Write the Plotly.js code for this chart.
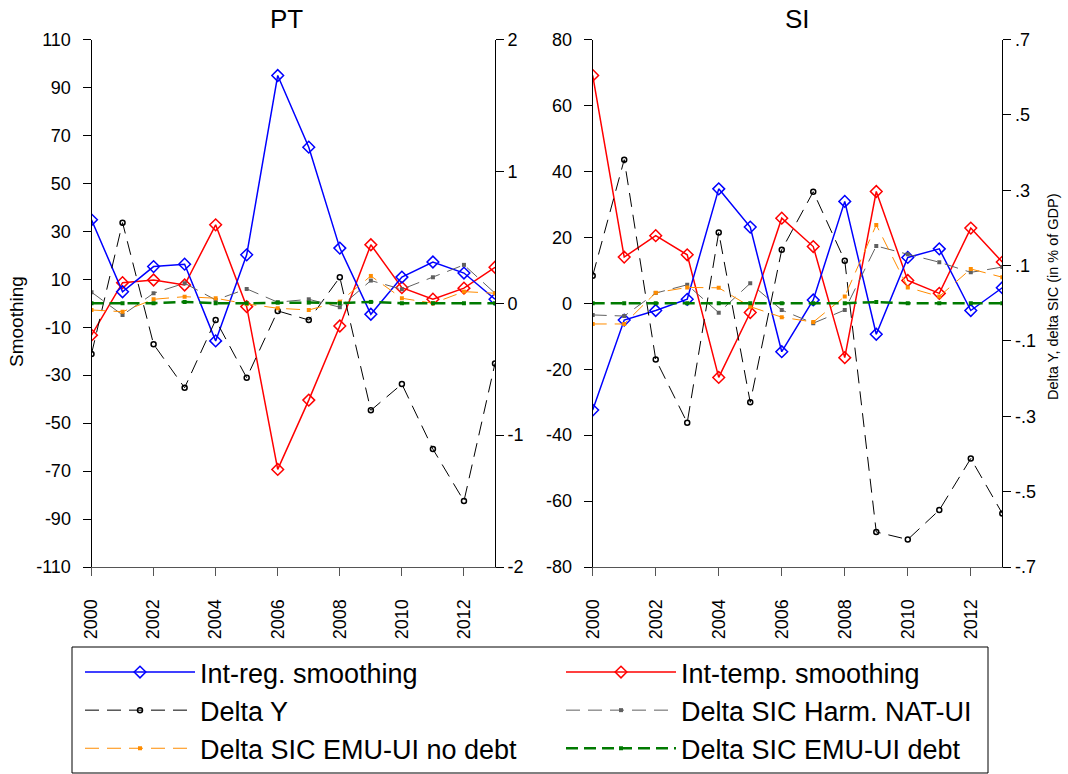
<!DOCTYPE html>
<html>
<head>
<meta charset="utf-8">
<script src="https://cdn.plot.ly/plotly-3.0.1.min.js"></script>
<style>
html,body{margin:0;padding:0;background:#fff;}
</style>
</head>
<body>
<div id="chart" style="width:1068px;height:774px;"></div>
<script>
const years = [2000,2001,2002,2003,2004,2005,2006,2007,2008,2009,2010,2011,2012,2013];
const xTickVals = [2000,2002,2004,2006,2008,2010,2012];

// PT
const ptIntReg  = [34.8, 4.8, 15.3, 16.3, -15.7, 20.2, 95.0, 65.1, 23.0, -4.6, 10.9, 17.2, 12.6, 1.7];
const ptIntTemp = [-13.3, 8.6, 9.7, 7.6, 32.7, -1.4, -69.3, -40.4, -9.5, 24.4, 6.5, 1.7, 6.3, 15.0];
const ptDeltaY  = [-0.384, 0.611, -0.311, -0.641, -0.127, -0.565, -0.058, -0.127, 0.197, -0.812, -0.613, -1.106, -1.50, -0.456];
const ptHarm    = [0.084, -0.089, 0.076, 0.152, 0.025, 0.109, 0.008, 0.030, -0.030, 0.172, 0.106, 0.197, 0.291, 0.076];
const ptNoDebt  = [-0.051, -0.064, 0.030, 0.050, 0.038, -0.005, -0.038, -0.051, 0.012, 0.207, 0.038, 0.000, 0.088, 0.076];
const ptDebt    = [0, 0, 0, 0.01, 0, 0, 0.005, 0.005, 0, 0.01, 0, 0, 0, 0];

// SI
const siIntReg  = [-32.4, -5.1, -2.2, 1.2, 34.7, 23.1, -14.7, 1.0, 30.9, -9.4, 13.9, 16.5, -2.2, 4.7];
const siIntTemp = [69.1, 14.0, 20.5, 14.7, -22.5, -2.8, 25.8, 17.2, -16.5, 33.9, 6.9, 3.0, 22.8, 12.5];
const siDeltaY  = [0.073, 0.381, -0.149, -0.317, 0.188, -0.263, 0.142, 0.296, 0.113, -0.607, -0.627, -0.549, -0.412, -0.558];
const siHarm    = [-0.031, -0.034, 0.027, 0.049, -0.025, 0.053, -0.018, -0.053, -0.018, 0.152, 0.130, 0.109, 0.082, 0.096];
const siNoDebt  = [-0.055, -0.055, 0.028, 0.042, 0.041, -0.009, -0.037, -0.050, 0.018, 0.208, 0.042, 0.018, 0.091, 0.069];
const siDebt    = [0, 0, 0, 0, 0, 0, 0, 0, 0, 0.003, 0, 0, 0, 0];

const ptLeftTicks = [-110,-90,-70,-50,-30,-10,10,30,50,70,90,110];
const ptRightTicks = [-2,-1,0,1,2];
const siLeftTicks = [-80,-60,-40,-20,0,20,40,60,80];
const siRightTicks = [-0.7,-0.5,-0.3,-0.1,0.1,0.3,0.5,0.7];
const siRightLabels = ['-.7','-.5','-.3','-.1','.1','.3','.5','.7'];

const names = ['Int-reg. smoothing','Int-temp. smoothing','Delta Y','Delta SIC Harm. NAT-UI','Delta SIC EMU-UI no debt','Delta SIC EMU-UI debt'];
const panelTitles = ['PT', 'SI'];
const leftTitle = 'Smoothing';
const rightTitle = 'Delta Y, delta SIC (in % of GDP)';

const FONT = 'Liberation Sans, Arial, sans-serif';

function series(xa, ya, yb, reg, temp, dy, harm, nod, deb, show) {
  return [
    {x: years, y: dy, name: names[2], xaxis: xa, yaxis: yb, mode: 'lines+markers', legend: 'legend', legendrank: 2, showlegend: show,
     line: {color: '#000000', width: 1, dash: '14px,8px'},
     marker: {symbol: 'circle-open', size: 5, color: '#000000', line: {width: 1.5, color: '#000000'}}},
    {x: years, y: harm, name: names[3], xaxis: xa, yaxis: yb, mode: 'lines+markers', legend: 'legend2', legendrank: 2, showlegend: show,
     line: {color: '#606060', width: 1, dash: '14px,8px'},
     marker: {symbol: 'square', size: 4, color: '#606060'}},
    {x: years, y: nod, name: names[4], xaxis: xa, yaxis: yb, mode: 'lines+markers', legend: 'legend', legendrank: 3, showlegend: show,
     line: {color: '#FF8C00', width: 1, dash: '14px,8px'},
     marker: {symbol: 'square', size: 4, color: '#FF8C00'}},
    {x: years, y: deb, name: names[5], xaxis: xa, yaxis: yb, mode: 'lines+markers', legend: 'legend2', legendrank: 3, showlegend: show,
     line: {color: '#007A00', width: 2.5, dash: '12px,6px'},
     marker: {symbol: 'square', size: 4, color: '#007A00'}},
    {x: years, y: temp, name: names[1], xaxis: xa, yaxis: ya, mode: 'lines+markers', legend: 'legend2', legendrank: 1, showlegend: show,
     line: {color: '#FF0000', width: 1.5},
     marker: {symbol: 'diamond-open', size: 9, color: '#FF0000', line: {width: 1.5, color: '#FF0000'}}},
    {x: years, y: reg, name: names[0], xaxis: xa, yaxis: ya, mode: 'lines+markers', legend: 'legend', legendrank: 1, showlegend: show,
     line: {color: '#0000FF', width: 1.5},
     marker: {symbol: 'diamond-open', size: 9, color: '#0000FF', line: {width: 1.5, color: '#0000FF'}}}
  ];
}

const tracesPT = series('x','y','y2', ptIntReg, ptIntTemp, ptDeltaY, ptHarm, ptNoDebt, ptDebt, true);
const tracesSI = series('x2','y3','y4', siIntReg, siIntTemp, siDeltaY, siHarm, siNoDebt, siDebt, false);
const data = tracesPT.concat(tracesSI);

const W = 1068, H = 774;
const yDom = [(H-567)/H, (H-39.5)/H];
const tickFont = {family: FONT, size: 18, color: '#000'};

function xAxis(dom, anchor) {
  return {domain: dom, anchor: anchor, range: [2000, 2013], tickmode: 'array', tickvals: xTickVals,
    ticktext: xTickVals.map(String), tickangle: -90, ticks: 'outside', ticklen: 8, tickcolor: '#555',
    showline: true, linecolor: '#555', linewidth: 1, showgrid: false, zeroline: false,
    tickfont: tickFont, ticklabelstandoff: 16, automargin: false};
}
function yAxis(range, vals, text, anchor, side, overlay) {
  const a = {range: range, tickmode: 'array', tickvals: vals, ticktext: text, anchor: anchor, side: side,
    ticks: 'outside', ticklen: 8, tickcolor: '#000', showline: true, linecolor: '#000', linewidth: 1,
    showgrid: false, zeroline: false, tickfont: tickFont, automargin: false};
  if (overlay) a.overlaying = overlay; else a.domain = yDom;
  if (side === 'left') a.ticklabelstandoff = 8;
  return a;
}

const legendCommon = {xanchor: 'left', yanchor: 'top', orientation: 'v', itemwidth: 110,
  font: {family: FONT, size: 27, color: '#000'}, bgcolor: 'rgba(0,0,0,0)', borderwidth: 0, traceorder: 'normal'};

const layout = {
  width: W, height: H,
  margin: {l: 0, r: 0, t: 0, b: 0},
  paper_bgcolor: '#fff', plot_bgcolor: '#fff',
  font: {family: FONT, color: '#000'},
  showlegend: true,
  xaxis: xAxis([91.5/W, 495/W], 'y'),
  xaxis2: xAxis([592.7/W, 1002.3/W], 'y3'),
  yaxis: yAxis([-110,110], ptLeftTicks, ptLeftTicks.map(String), 'x', 'left', null),
  yaxis2: yAxis([-2,2], ptRightTicks, ptRightTicks.map(String), 'x', 'right', 'y'),
  yaxis3: yAxis([-80,80], siLeftTicks, siLeftTicks.map(String), 'x2', 'left', null),
  yaxis4: yAxis([-0.7,0.7], siRightTicks, siRightLabels, 'x2', 'right', 'y3'),
  legend: Object.assign({x: 80/W, y: (H-648)/H}, legendCommon),
  legend2: Object.assign({x: 561/W, y: (H-648)/H}, legendCommon),
  shapes: [{type: 'rect', xref: 'paper', yref: 'paper', x0: 72/W, x1: 988/W, y0: 1/H, y1: (H-647)/H,
    line: {color: '#000', width: 1}, fillcolor: 'rgba(0,0,0,0)'}],
  annotations: [
    {text: panelTitles[0], xref: 'paper', yref: 'paper', x: 286/W, y: (H-19)/H, xanchor: 'center', yanchor: 'middle',
     showarrow: false, font: {family: FONT, size: 26, color: '#000'}},
    {text: panelTitles[1], xref: 'paper', yref: 'paper', x: 797/W, y: (H-19)/H, xanchor: 'center', yanchor: 'middle',
     showarrow: false, font: {family: FONT, size: 26, color: '#000'}},
    {text: leftTitle, xref: 'paper', yref: 'paper', x: 16/W, y: (H-322)/H, xanchor: 'center', yanchor: 'middle',
     textangle: -90, showarrow: false, font: {family: FONT, size: 19, color: '#000'}},
    {text: rightTitle, xref: 'paper', yref: 'paper', x: 1053/W, y: (H-297)/H, xanchor: 'center', yanchor: 'middle',
     textangle: -90, showarrow: false, font: {family: FONT, size: 14.5, color: '#000'}}
  ]
};

Plotly.newPlot('chart', data, layout, {displayModeBar: false, staticPlot: true});
</script>
</body>
</html>
